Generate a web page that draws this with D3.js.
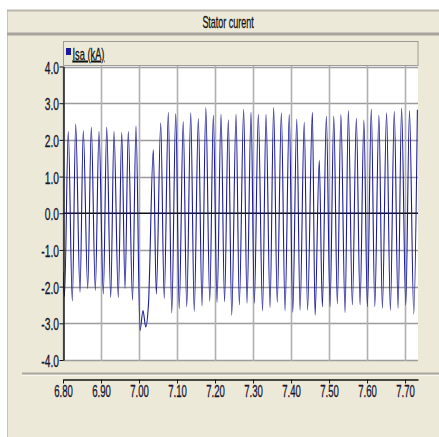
<!DOCTYPE html>
<html>
<head>
<meta charset="utf-8">
<script src="https://cdn.jsdelivr.net/npm/d3@7"></script>
<style>
  html, body { margin: 0; padding: 0; background: #ffffff; }
  svg { display: block; }
</style>
</head>
<body>
<svg id="chart" width="439" height="437"></svg>
<script>
// Stator current Isa (kA): successive extrema of the phase current, time in seconds
const isaTime = [
  6.8000, 6.8039, 6.8139, 6.8245, 6.8334, 6.8447, 6.8534, 6.8650, 6.8745, 6.8850,
  6.8947, 6.9061, 6.9150, 6.9255, 6.9342, 6.9455, 6.9545, 6.9632, 6.9718, 6.9829,
  6.9921, 7.0026, 7.0105, 7.0176, 7.0250, 7.0376, 7.0455, 7.0571, 7.0663, 7.0771,
  7.0861, 7.0966, 7.1058, 7.1163, 7.1255, 7.1361, 7.1453, 7.1561, 7.1658, 7.1758,
  7.1861, 7.1955, 7.2053, 7.2158, 7.2250, 7.2350, 7.2439, 7.2553, 7.2639, 7.2753,
  7.2842, 7.2947, 7.3034, 7.3139, 7.3250, 7.3342, 7.3447, 7.3542, 7.3637, 7.3745,
  7.3842, 7.3953, 7.4045, 7.4150, 7.4237, 7.4347, 7.4434, 7.4561, 7.4632, 7.4742,
  7.4824, 7.4929, 7.5026, 7.5124, 7.5218, 7.5311, 7.5421, 7.5508, 7.5613, 7.5718,
  7.5816, 7.5916, 7.6008, 7.6111, 7.6203, 7.6311, 7.6403, 7.6513, 7.6613, 7.6716,
  7.6816, 7.6908, 7.7018, 7.7116, 7.7229, 7.7324
];
const isaValue = [
  -1.60, -2.27,  2.23, -2.39,  2.43, -2.15,  2.25, -2.05,  2.34, -2.10,
   2.23, -2.20,  2.34, -2.30,  2.23, -2.30,  2.20, -2.05,  2.23, -2.37,
   2.38, -3.20, -2.65, -3.10, -2.45,  1.73, -2.20,  2.46, -2.32,  2.75,
  -2.72,  2.72, -2.60,  2.50, -2.55,  2.74, -2.67,  2.58, -2.53,  2.88,
  -2.40,  2.67, -2.43,  2.70, -2.41,  2.55, -2.78,  2.70, -2.50,  2.83,
  -2.45,  2.75, -2.45,  2.70, -2.66,  2.70, -2.57,  2.88, -2.43,  2.74,
  -2.66,  2.70, -2.70,  2.57, -2.64,  2.48, -2.64,  2.75, -2.77,  1.44,
  -2.55,  2.64, -2.55,  2.65, -2.47,  2.69, -2.71,  2.80, -2.50,  2.59,
  -2.50,  2.54, -2.55,  2.84, -2.55,  2.68, -2.59,  2.74, -2.65,  2.78,
  -2.59,  2.87, -2.50,  2.80, -2.75,  2.82
];

const xTicks = [6.80, 6.90, 7.00, 7.10, 7.20, 7.30, 7.40, 7.50, 7.60, 7.70];
const yTicks = [-4, -3, -2, -1, 0, 1, 2, 3, 4];
const xDomain = [6.80, 7.734];
const yDomain = [-4, 4];

const titleText = "Stator curent";
const seriesName = "Isa (kA)";

const panel = "#ECE9D8";
const lineColor = "#1c1c96";
const textColor = "#161630";
const fontFamily = "Liberation Sans, Arial, sans-serif";

const svg = d3.select("#chart");
const W = 439, H = 437;

// plot rectangle
const plot = { left: 63, right: 418, top: 66, bottom: 361 };

const x = d3.scaleLinear().domain(xDomain).range([plot.left, plot.right]);
const y = d3.scaleLinear().domain(yDomain).range([360, 66.5]);

// window background
svg.append("rect").attr("x", 7).attr("y", 10).attr("width", W - 7).attr("height", H - 10)
  .attr("fill", panel);
svg.append("line").attr("x1", 7.5).attr("x2", 7.5).attr("y1", 10).attr("y2", H)
  .attr("stroke", "#c8c5b6").attr("stroke-width", 1);

// title bar
svg.append("line").attr("x1", 7).attr("x2", W).attr("y1", 10.5).attr("y2", 10.5)
  .attr("stroke", "#b9b7ad").attr("stroke-width", 2);
svg.append("line").attr("x1", 7).attr("x2", W).attr("y1", 34).attr("y2", 34)
  .attr("stroke", "#a7a59c").attr("stroke-width", 3);
svg.append("text")
  .attr("transform", "translate(228,27.5) scale(0.56,1)")
  .attr("text-anchor", "middle")
  .attr("font-family", fontFamily)
  .attr("font-size", 16)
  .attr("fill", "#111")
  .attr("stroke", "#111").attr("stroke-width", 0.3)
  .text(titleText);

// legend strip
svg.append("rect").attr("x", plot.left + 0.5).attr("y", 41.5)
  .attr("width", plot.right - plot.left - 0.5).attr("height", 24)
  .attr("fill", panel).attr("stroke", "#9e9c94").attr("stroke-width", 1);
svg.append("rect").attr("x", 66).attr("y", 48).attr("width", 5).attr("height", 7)
  .attr("fill", "#1a1aa0");
svg.append("text")
  .attr("transform", "translate(72.5,59.5) scale(0.58,1)")
  .attr("font-family", fontFamily)
  .attr("font-size", 16)
  .attr("fill", "#111")
  .attr("stroke", "#111").attr("stroke-width", 0.3)
  .attr("text-decoration", "underline")
  .text(seriesName);

// plotting area
svg.append("rect").attr("x", plot.left).attr("y", plot.top)
  .attr("width", plot.right - plot.left).attr("height", plot.bottom - plot.top)
  .attr("fill", "#ffffff");

// grid
const grid = svg.append("g");
grid.selectAll("line.h").data(yTicks.filter(d => d !== 0)).join("line")
  .attr("x1", plot.left).attr("x2", plot.right)
  .attr("y1", d => Math.round(y(d)) + 0.5).attr("y2", d => Math.round(y(d)) + 0.5)
  .attr("stroke", "#9c9c9c").attr("stroke-width", 1.6);
grid.selectAll("line.v").data(xTicks).join("line")
  .attr("x1", d => Math.round(x(d)) + 0.5).attr("x2", d => Math.round(x(d)) + 0.5)
  .attr("y1", plot.top).attr("y2", plot.bottom)
  .attr("stroke", "#b0b0b0").attr("stroke-width", 1.6);
grid.append("line")
  .attr("x1", plot.left).attr("x2", plot.right)
  .attr("y1", y(0)).attr("y2", y(0))
  .attr("stroke", "#111").attr("stroke-width", 1.6);

// current trace
svg.append("clipPath").attr("id", "plotClip").append("rect")
  .attr("x", plot.left).attr("y", plot.top)
  .attr("width", plot.right - plot.left).attr("height", plot.bottom - plot.top);

const points = isaTime.map((t, i) => [t, isaValue[i]]);
const line = d3.line()
  .x(d => x(d[0]))
  .y(d => y(d[1]))
  .curve(d3.curveMonotoneX);

svg.append("path")
  .attr("clip-path", "url(#plotClip)")
  .attr("d", line(points))
  .attr("fill", "none")
  .attr("stroke", lineColor)
  .attr("stroke-width", 1.1)
  .attr("stroke-linejoin", "round");

// y axis
const yAxis = d3.axisLeft(y)
  .tickValues(yTicks)
  .tickFormat(d => d.toFixed(1))
  .tickSize(4)
  .tickSizeOuter(0);
const gy = svg.append("g").attr("transform", `translate(${plot.left + 0.5},0)`).call(yAxis);
gy.select(".domain").attr("stroke", "#111").attr("stroke-width", 1.4);
gy.selectAll(".tick line").attr("stroke", "#111");
gy.selectAll(".tick text")
  .attr("x", 0)
  .attr("transform", "translate(-4.5,1.5) scale(0.64,1)")
  .attr("font-family", fontFamily)
  .attr("font-size", 16)
  .attr("fill", textColor)
  .attr("stroke", textColor).attr("stroke-width", 0.3);

// divider above the time axis
svg.append("line").attr("x1", 22).attr("x2", W).attr("y1", 373.5).attr("y2", 373.5)
  .attr("stroke", "#a9a79e").attr("stroke-width", 2);
svg.append("line").attr("x1", 22).attr("x2", W).attr("y1", 375.5).attr("y2", 375.5)
  .attr("stroke", "#f7f6f0").attr("stroke-width", 1);

// x axis
const xAxis = d3.axisBottom(x)
  .tickValues(xTicks)
  .tickFormat(d => d.toFixed(2))
  .tickSize(4)
  .tickSizeOuter(0);
const gx = svg.append("g").attr("transform", "translate(0,379.5)").call(xAxis);
gx.select(".domain").attr("stroke", "#111").attr("stroke-width", 1.4);
gx.selectAll(".tick line").attr("stroke", "#111");
gx.selectAll(".tick text")
  .attr("y", 0)
  .attr("dy", 0)
  .attr("transform", "translate(0,17) scale(0.6,1)")
  .attr("font-family", fontFamily)
  .attr("font-size", 16)
  .attr("fill", textColor)
  .attr("stroke", textColor).attr("stroke-width", 0.3);
</script>
</body>
</html>
